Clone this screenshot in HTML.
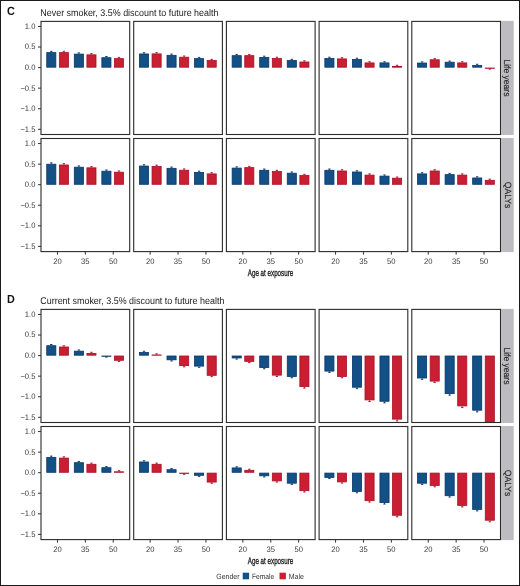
<!DOCTYPE html><html><head><meta charset="utf-8"><style>html,body{margin:0;padding:0;background:#fff}svg{display:block;will-change:transform}text{font-family:"Liberation Sans",sans-serif;text-rendering:geometricPrecision}</style></head><body>
<svg width="520" height="586" viewBox="0 0 520 586">
<rect x="0" y="0" width="520" height="586" fill="#fff"/>
<rect x="0.5" y="0.5" width="519" height="585" fill="none" stroke="#1c1a1b" stroke-width="1"/>
<clipPath id="c00"><rect x="41.0" y="21.4" width="88.7" height="113.1"/></clipPath>
<clipPath id="c01"><rect x="133.7" y="21.4" width="88.7" height="113.1"/></clipPath>
<clipPath id="c02"><rect x="226.4" y="21.4" width="88.7" height="113.1"/></clipPath>
<clipPath id="c03"><rect x="319.1" y="21.4" width="88.7" height="113.1"/></clipPath>
<clipPath id="c04"><rect x="411.8" y="21.4" width="88.7" height="113.1"/></clipPath>
<g clip-path="url(#c00)"><rect x="46.75" y="52.62" width="9.10" height="14.58" fill="#135086" stroke="#07366b" stroke-width="0.8"/><line x1="51.30" y1="52.22" x2="51.30" y2="51.35" stroke="#07366b" stroke-width="0.9"/><line x1="50.10" y1="51.35" x2="52.50" y2="51.35" stroke="#07366b" stroke-width="0.9"/><rect x="59.35" y="52.62" width="9.10" height="14.58" fill="#c81f33" stroke="#aa0f27" stroke-width="0.8"/><line x1="63.90" y1="52.22" x2="63.90" y2="51.35" stroke="#aa0f27" stroke-width="0.9"/><line x1="62.70" y1="51.35" x2="65.10" y2="51.35" stroke="#aa0f27" stroke-width="0.9"/><rect x="74.30" y="54.10" width="9.10" height="13.10" fill="#135086" stroke="#07366b" stroke-width="0.8"/><line x1="78.85" y1="53.70" x2="78.85" y2="52.85" stroke="#07366b" stroke-width="0.9"/><line x1="77.65" y1="52.85" x2="80.05" y2="52.85" stroke="#07366b" stroke-width="0.9"/><rect x="86.90" y="54.84" width="9.10" height="12.36" fill="#c81f33" stroke="#aa0f27" stroke-width="0.8"/><line x1="91.45" y1="54.44" x2="91.45" y2="53.59" stroke="#aa0f27" stroke-width="0.9"/><line x1="90.25" y1="53.59" x2="92.65" y2="53.59" stroke="#aa0f27" stroke-width="0.9"/><rect x="101.85" y="57.72" width="9.10" height="9.48" fill="#135086" stroke="#07366b" stroke-width="0.8"/><line x1="106.40" y1="57.32" x2="106.40" y2="56.50" stroke="#07366b" stroke-width="0.9"/><line x1="105.20" y1="56.50" x2="107.60" y2="56.50" stroke="#07366b" stroke-width="0.9"/><rect x="114.45" y="58.62" width="9.10" height="8.58" fill="#c81f33" stroke="#aa0f27" stroke-width="0.8"/><line x1="119.00" y1="58.22" x2="119.00" y2="57.42" stroke="#aa0f27" stroke-width="0.9"/><line x1="117.80" y1="57.42" x2="120.20" y2="57.42" stroke="#aa0f27" stroke-width="0.9"/></g>
<rect x="41.0" y="21.4" width="88.7" height="113.1" fill="none" stroke="#2c2a2b" stroke-width="1.1"/>
<g clip-path="url(#c01)"><rect x="139.45" y="53.97" width="9.10" height="13.23" fill="#135086" stroke="#07366b" stroke-width="0.8"/><line x1="144.00" y1="53.57" x2="144.00" y2="52.72" stroke="#07366b" stroke-width="0.9"/><line x1="142.80" y1="52.72" x2="145.20" y2="52.72" stroke="#07366b" stroke-width="0.9"/><rect x="152.05" y="53.89" width="9.10" height="13.31" fill="#c81f33" stroke="#aa0f27" stroke-width="0.8"/><line x1="156.60" y1="53.49" x2="156.60" y2="52.64" stroke="#aa0f27" stroke-width="0.9"/><line x1="155.40" y1="52.64" x2="157.80" y2="52.64" stroke="#aa0f27" stroke-width="0.9"/><rect x="167.00" y="55.33" width="9.10" height="11.87" fill="#135086" stroke="#07366b" stroke-width="0.8"/><line x1="171.55" y1="54.93" x2="171.55" y2="54.09" stroke="#07366b" stroke-width="0.9"/><line x1="170.35" y1="54.09" x2="172.75" y2="54.09" stroke="#07366b" stroke-width="0.9"/><rect x="179.60" y="57.22" width="9.10" height="9.98" fill="#c81f33" stroke="#aa0f27" stroke-width="0.8"/><line x1="184.15" y1="56.82" x2="184.15" y2="56.01" stroke="#aa0f27" stroke-width="0.9"/><line x1="182.95" y1="56.01" x2="185.35" y2="56.01" stroke="#aa0f27" stroke-width="0.9"/><rect x="194.55" y="58.62" width="9.10" height="8.58" fill="#135086" stroke="#07366b" stroke-width="0.8"/><line x1="199.10" y1="58.22" x2="199.10" y2="57.42" stroke="#07366b" stroke-width="0.9"/><line x1="197.90" y1="57.42" x2="200.30" y2="57.42" stroke="#07366b" stroke-width="0.9"/><rect x="207.15" y="60.51" width="9.10" height="6.69" fill="#c81f33" stroke="#aa0f27" stroke-width="0.8"/><line x1="211.70" y1="60.11" x2="211.70" y2="59.33" stroke="#aa0f27" stroke-width="0.9"/><line x1="210.50" y1="59.33" x2="212.90" y2="59.33" stroke="#aa0f27" stroke-width="0.9"/></g>
<rect x="133.7" y="21.4" width="88.7" height="113.1" fill="none" stroke="#2c2a2b" stroke-width="1.1"/>
<g clip-path="url(#c02)"><rect x="232.15" y="55.66" width="9.10" height="11.54" fill="#135086" stroke="#07366b" stroke-width="0.8"/><line x1="236.70" y1="55.26" x2="236.70" y2="54.43" stroke="#07366b" stroke-width="0.9"/><line x1="235.50" y1="54.43" x2="237.90" y2="54.43" stroke="#07366b" stroke-width="0.9"/><rect x="244.75" y="55.66" width="9.10" height="11.54" fill="#c81f33" stroke="#aa0f27" stroke-width="0.8"/><line x1="249.30" y1="55.26" x2="249.30" y2="54.43" stroke="#aa0f27" stroke-width="0.9"/><line x1="248.10" y1="54.43" x2="250.50" y2="54.43" stroke="#aa0f27" stroke-width="0.9"/><rect x="259.70" y="57.39" width="9.10" height="9.81" fill="#135086" stroke="#07366b" stroke-width="0.8"/><line x1="264.25" y1="56.99" x2="264.25" y2="56.17" stroke="#07366b" stroke-width="0.9"/><line x1="263.05" y1="56.17" x2="265.45" y2="56.17" stroke="#07366b" stroke-width="0.9"/><rect x="272.30" y="58.42" width="9.10" height="8.78" fill="#c81f33" stroke="#aa0f27" stroke-width="0.8"/><line x1="276.85" y1="58.02" x2="276.85" y2="57.21" stroke="#aa0f27" stroke-width="0.9"/><line x1="275.65" y1="57.21" x2="278.05" y2="57.21" stroke="#aa0f27" stroke-width="0.9"/><rect x="287.25" y="60.51" width="9.10" height="6.69" fill="#135086" stroke="#07366b" stroke-width="0.8"/><line x1="291.80" y1="60.11" x2="291.80" y2="59.33" stroke="#07366b" stroke-width="0.9"/><line x1="290.60" y1="59.33" x2="293.00" y2="59.33" stroke="#07366b" stroke-width="0.9"/><rect x="299.85" y="62.00" width="9.10" height="5.20" fill="#c81f33" stroke="#aa0f27" stroke-width="0.8"/><line x1="304.40" y1="61.60" x2="304.40" y2="60.83" stroke="#aa0f27" stroke-width="0.9"/><line x1="303.20" y1="60.83" x2="305.60" y2="60.83" stroke="#aa0f27" stroke-width="0.9"/></g>
<rect x="226.4" y="21.4" width="88.7" height="113.1" fill="none" stroke="#2c2a2b" stroke-width="1.1"/>
<g clip-path="url(#c03)"><rect x="324.85" y="58.42" width="9.10" height="8.78" fill="#135086" stroke="#07366b" stroke-width="0.8"/><line x1="329.40" y1="58.02" x2="329.40" y2="57.21" stroke="#07366b" stroke-width="0.9"/><line x1="328.20" y1="57.21" x2="330.60" y2="57.21" stroke="#07366b" stroke-width="0.9"/><rect x="337.45" y="58.91" width="9.10" height="8.29" fill="#c81f33" stroke="#aa0f27" stroke-width="0.8"/><line x1="342.00" y1="58.51" x2="342.00" y2="57.71" stroke="#aa0f27" stroke-width="0.9"/><line x1="340.80" y1="57.71" x2="343.20" y2="57.71" stroke="#aa0f27" stroke-width="0.9"/><rect x="352.40" y="59.40" width="9.10" height="7.80" fill="#135086" stroke="#07366b" stroke-width="0.8"/><line x1="356.95" y1="59.00" x2="356.95" y2="58.21" stroke="#07366b" stroke-width="0.9"/><line x1="355.75" y1="58.21" x2="358.15" y2="58.21" stroke="#07366b" stroke-width="0.9"/><rect x="365.00" y="62.90" width="9.10" height="4.30" fill="#c81f33" stroke="#aa0f27" stroke-width="0.8"/><line x1="369.55" y1="62.50" x2="369.55" y2="61.74" stroke="#aa0f27" stroke-width="0.9"/><line x1="368.35" y1="61.74" x2="370.75" y2="61.74" stroke="#aa0f27" stroke-width="0.9"/><rect x="379.95" y="62.90" width="9.10" height="4.30" fill="#135086" stroke="#07366b" stroke-width="0.8"/><line x1="384.50" y1="62.50" x2="384.50" y2="61.74" stroke="#07366b" stroke-width="0.9"/><line x1="383.30" y1="61.74" x2="385.70" y2="61.74" stroke="#07366b" stroke-width="0.9"/><rect x="392.55" y="66.40" width="9.10" height="0.80" fill="#c81f33" stroke="#aa0f27" stroke-width="0.8"/><line x1="397.10" y1="66.00" x2="397.10" y2="65.28" stroke="#aa0f27" stroke-width="0.9"/><line x1="395.90" y1="65.28" x2="398.30" y2="65.28" stroke="#aa0f27" stroke-width="0.9"/></g>
<rect x="319.1" y="21.4" width="88.7" height="113.1" fill="none" stroke="#2c2a2b" stroke-width="1.1"/>
<g clip-path="url(#c04)"><rect x="417.55" y="63.06" width="9.10" height="4.14" fill="#135086" stroke="#07366b" stroke-width="0.8"/><line x1="422.10" y1="62.66" x2="422.10" y2="61.91" stroke="#07366b" stroke-width="0.9"/><line x1="420.90" y1="61.91" x2="423.30" y2="61.91" stroke="#07366b" stroke-width="0.9"/><rect x="430.15" y="59.77" width="9.10" height="7.43" fill="#c81f33" stroke="#aa0f27" stroke-width="0.8"/><line x1="434.70" y1="59.37" x2="434.70" y2="58.58" stroke="#aa0f27" stroke-width="0.9"/><line x1="433.50" y1="58.58" x2="435.90" y2="58.58" stroke="#aa0f27" stroke-width="0.9"/><rect x="445.10" y="62.20" width="9.10" height="5.00" fill="#135086" stroke="#07366b" stroke-width="0.8"/><line x1="449.65" y1="61.80" x2="449.65" y2="61.04" stroke="#07366b" stroke-width="0.9"/><line x1="448.45" y1="61.04" x2="450.85" y2="61.04" stroke="#07366b" stroke-width="0.9"/><rect x="457.70" y="62.90" width="9.10" height="4.30" fill="#c81f33" stroke="#aa0f27" stroke-width="0.8"/><line x1="462.25" y1="62.50" x2="462.25" y2="61.74" stroke="#aa0f27" stroke-width="0.9"/><line x1="461.05" y1="61.74" x2="463.45" y2="61.74" stroke="#aa0f27" stroke-width="0.9"/><rect x="472.65" y="65.41" width="9.10" height="1.79" fill="#135086" stroke="#07366b" stroke-width="0.8"/><line x1="477.20" y1="65.01" x2="477.20" y2="64.28" stroke="#07366b" stroke-width="0.9"/><line x1="476.00" y1="64.28" x2="478.40" y2="64.28" stroke="#07366b" stroke-width="0.9"/><rect x="485.25" y="68.00" width="9.10" height="0.30" fill="#c81f33" stroke="#aa0f27" stroke-width="0.8"/><line x1="489.80" y1="68.42" x2="489.80" y2="69.13" stroke="#aa0f27" stroke-width="0.9"/><line x1="488.60" y1="69.13" x2="491.00" y2="69.13" stroke="#aa0f27" stroke-width="0.9"/></g>
<rect x="411.8" y="21.4" width="88.7" height="113.1" fill="none" stroke="#2c2a2b" stroke-width="1.1"/>
<line x1="38" y1="26.47" x2="41.0" y2="26.47" stroke="#333" stroke-width="1"/>
<text x="0" y="0" font-size="8.0" fill="#3a3a3a" text-anchor="end"  transform="translate(35.40 28.87) scale(0.95 1)">1.0</text>
<line x1="38" y1="47.03" x2="41.0" y2="47.03" stroke="#333" stroke-width="1"/>
<text x="0" y="0" font-size="8.0" fill="#3a3a3a" text-anchor="end"  transform="translate(35.40 49.43) scale(0.95 1)">0.5</text>
<line x1="38" y1="67.60" x2="41.0" y2="67.60" stroke="#333" stroke-width="1"/>
<text x="0" y="0" font-size="8.0" fill="#3a3a3a" text-anchor="end"  transform="translate(35.40 70.00) scale(0.95 1)">0.0</text>
<line x1="38" y1="88.16" x2="41.0" y2="88.16" stroke="#333" stroke-width="1"/>
<text x="0" y="0" font-size="8.0" fill="#3a3a3a" text-anchor="end"  transform="translate(35.40 90.56) scale(0.95 1)">−0.5</text>
<line x1="38" y1="108.73" x2="41.0" y2="108.73" stroke="#333" stroke-width="1"/>
<text x="0" y="0" font-size="8.0" fill="#3a3a3a" text-anchor="end"  transform="translate(35.40 111.13) scale(0.95 1)">−1.0</text>
<line x1="38" y1="129.30" x2="41.0" y2="129.30" stroke="#333" stroke-width="1"/>
<text x="0" y="0" font-size="8.0" fill="#3a3a3a" text-anchor="end"  transform="translate(35.40 131.70) scale(0.95 1)">−1.5</text>
<rect x="501" y="20.9" width="12.7" height="114.1" fill="#bdbcc0"/>
<text x="0" y="0" font-size="9.0" fill="#262626" text-anchor="middle" stroke="#262626" stroke-width="0.15" transform="translate(503.90 77.95) rotate(90) scale(0.95 1)">Life years</text>
<clipPath id="c10"><rect x="41.0" y="138.5" width="88.7" height="113.1"/></clipPath>
<clipPath id="c11"><rect x="133.7" y="138.5" width="88.7" height="113.1"/></clipPath>
<clipPath id="c12"><rect x="226.4" y="138.5" width="88.7" height="113.1"/></clipPath>
<clipPath id="c13"><rect x="319.1" y="138.5" width="88.7" height="113.1"/></clipPath>
<clipPath id="c14"><rect x="411.8" y="138.5" width="88.7" height="113.1"/></clipPath>
<g clip-path="url(#c10)"><rect x="46.75" y="164.21" width="9.10" height="20.09" fill="#135086" stroke="#07366b" stroke-width="0.8"/><line x1="51.30" y1="163.81" x2="51.30" y2="162.88" stroke="#07366b" stroke-width="0.9"/><line x1="50.10" y1="162.88" x2="52.50" y2="162.88" stroke="#07366b" stroke-width="0.9"/><rect x="59.35" y="164.99" width="9.10" height="19.31" fill="#c81f33" stroke="#aa0f27" stroke-width="0.8"/><line x1="63.90" y1="164.59" x2="63.90" y2="163.67" stroke="#aa0f27" stroke-width="0.9"/><line x1="62.70" y1="163.67" x2="65.10" y2="163.67" stroke="#aa0f27" stroke-width="0.9"/><rect x="74.30" y="167.21" width="9.10" height="17.09" fill="#135086" stroke="#07366b" stroke-width="0.8"/><line x1="78.85" y1="166.81" x2="78.85" y2="165.91" stroke="#07366b" stroke-width="0.9"/><line x1="77.65" y1="165.91" x2="80.05" y2="165.91" stroke="#07366b" stroke-width="0.9"/><rect x="86.90" y="167.83" width="9.10" height="16.47" fill="#c81f33" stroke="#aa0f27" stroke-width="0.8"/><line x1="91.45" y1="167.43" x2="91.45" y2="166.54" stroke="#aa0f27" stroke-width="0.9"/><line x1="90.25" y1="166.54" x2="92.65" y2="166.54" stroke="#aa0f27" stroke-width="0.9"/><rect x="101.85" y="171.20" width="9.10" height="13.10" fill="#135086" stroke="#07366b" stroke-width="0.8"/><line x1="106.40" y1="170.80" x2="106.40" y2="169.95" stroke="#07366b" stroke-width="0.9"/><line x1="105.20" y1="169.95" x2="107.60" y2="169.95" stroke="#07366b" stroke-width="0.9"/><rect x="114.45" y="172.19" width="9.10" height="12.11" fill="#c81f33" stroke="#aa0f27" stroke-width="0.8"/><line x1="119.00" y1="171.79" x2="119.00" y2="170.94" stroke="#aa0f27" stroke-width="0.9"/><line x1="117.80" y1="170.94" x2="120.20" y2="170.94" stroke="#aa0f27" stroke-width="0.9"/></g>
<rect x="41.0" y="138.5" width="88.7" height="113.1" fill="none" stroke="#2c2a2b" stroke-width="1.1"/>
<g clip-path="url(#c11)"><rect x="139.45" y="166.06" width="9.10" height="18.24" fill="#135086" stroke="#07366b" stroke-width="0.8"/><line x1="144.00" y1="165.66" x2="144.00" y2="164.75" stroke="#07366b" stroke-width="0.9"/><line x1="142.80" y1="164.75" x2="145.20" y2="164.75" stroke="#07366b" stroke-width="0.9"/><rect x="152.05" y="166.39" width="9.10" height="17.91" fill="#c81f33" stroke="#aa0f27" stroke-width="0.8"/><line x1="156.60" y1="165.99" x2="156.60" y2="165.08" stroke="#aa0f27" stroke-width="0.9"/><line x1="155.40" y1="165.08" x2="157.80" y2="165.08" stroke="#aa0f27" stroke-width="0.9"/><rect x="167.00" y="168.32" width="9.10" height="15.98" fill="#135086" stroke="#07366b" stroke-width="0.8"/><line x1="171.55" y1="167.92" x2="171.55" y2="167.04" stroke="#07366b" stroke-width="0.9"/><line x1="170.35" y1="167.04" x2="172.75" y2="167.04" stroke="#07366b" stroke-width="0.9"/><rect x="179.60" y="170.21" width="9.10" height="14.09" fill="#c81f33" stroke="#aa0f27" stroke-width="0.8"/><line x1="184.15" y1="169.81" x2="184.15" y2="168.95" stroke="#aa0f27" stroke-width="0.9"/><line x1="182.95" y1="168.95" x2="185.35" y2="168.95" stroke="#aa0f27" stroke-width="0.9"/><rect x="194.55" y="172.39" width="9.10" height="11.91" fill="#135086" stroke="#07366b" stroke-width="0.8"/><line x1="199.10" y1="171.99" x2="199.10" y2="171.15" stroke="#07366b" stroke-width="0.9"/><line x1="197.90" y1="171.15" x2="200.30" y2="171.15" stroke="#07366b" stroke-width="0.9"/><rect x="207.15" y="173.91" width="9.10" height="10.39" fill="#c81f33" stroke="#aa0f27" stroke-width="0.8"/><line x1="211.70" y1="173.51" x2="211.70" y2="172.69" stroke="#aa0f27" stroke-width="0.9"/><line x1="210.50" y1="172.69" x2="212.90" y2="172.69" stroke="#aa0f27" stroke-width="0.9"/></g>
<rect x="133.7" y="138.5" width="88.7" height="113.1" fill="none" stroke="#2c2a2b" stroke-width="1.1"/>
<g clip-path="url(#c12)"><rect x="232.15" y="168.11" width="9.10" height="16.19" fill="#135086" stroke="#07366b" stroke-width="0.8"/><line x1="236.70" y1="167.71" x2="236.70" y2="166.83" stroke="#07366b" stroke-width="0.9"/><line x1="235.50" y1="166.83" x2="237.90" y2="166.83" stroke="#07366b" stroke-width="0.9"/><rect x="244.75" y="167.62" width="9.10" height="16.68" fill="#c81f33" stroke="#aa0f27" stroke-width="0.8"/><line x1="249.30" y1="167.22" x2="249.30" y2="166.33" stroke="#aa0f27" stroke-width="0.9"/><line x1="248.10" y1="166.33" x2="250.50" y2="166.33" stroke="#aa0f27" stroke-width="0.9"/><rect x="259.70" y="170.29" width="9.10" height="14.01" fill="#135086" stroke="#07366b" stroke-width="0.8"/><line x1="264.25" y1="169.89" x2="264.25" y2="169.03" stroke="#07366b" stroke-width="0.9"/><line x1="263.05" y1="169.03" x2="265.45" y2="169.03" stroke="#07366b" stroke-width="0.9"/><rect x="272.30" y="171.49" width="9.10" height="12.81" fill="#c81f33" stroke="#aa0f27" stroke-width="0.8"/><line x1="276.85" y1="171.09" x2="276.85" y2="170.24" stroke="#aa0f27" stroke-width="0.9"/><line x1="275.65" y1="170.24" x2="278.05" y2="170.24" stroke="#aa0f27" stroke-width="0.9"/><rect x="287.25" y="173.21" width="9.10" height="11.09" fill="#135086" stroke="#07366b" stroke-width="0.8"/><line x1="291.80" y1="172.81" x2="291.80" y2="171.98" stroke="#07366b" stroke-width="0.9"/><line x1="290.60" y1="171.98" x2="293.00" y2="171.98" stroke="#07366b" stroke-width="0.9"/><rect x="299.85" y="175.52" width="9.10" height="8.78" fill="#c81f33" stroke="#aa0f27" stroke-width="0.8"/><line x1="304.40" y1="175.12" x2="304.40" y2="174.31" stroke="#aa0f27" stroke-width="0.9"/><line x1="303.20" y1="174.31" x2="305.60" y2="174.31" stroke="#aa0f27" stroke-width="0.9"/></g>
<rect x="226.4" y="138.5" width="88.7" height="113.1" fill="none" stroke="#2c2a2b" stroke-width="1.1"/>
<g clip-path="url(#c13)"><rect x="324.85" y="170.29" width="9.10" height="14.01" fill="#135086" stroke="#07366b" stroke-width="0.8"/><line x1="329.40" y1="169.89" x2="329.40" y2="169.03" stroke="#07366b" stroke-width="0.9"/><line x1="328.20" y1="169.03" x2="330.60" y2="169.03" stroke="#07366b" stroke-width="0.9"/><rect x="337.45" y="170.99" width="9.10" height="13.31" fill="#c81f33" stroke="#aa0f27" stroke-width="0.8"/><line x1="342.00" y1="170.59" x2="342.00" y2="169.74" stroke="#aa0f27" stroke-width="0.9"/><line x1="340.80" y1="169.74" x2="343.20" y2="169.74" stroke="#aa0f27" stroke-width="0.9"/><rect x="352.40" y="172.02" width="9.10" height="12.28" fill="#135086" stroke="#07366b" stroke-width="0.8"/><line x1="356.95" y1="171.62" x2="356.95" y2="170.78" stroke="#07366b" stroke-width="0.9"/><line x1="355.75" y1="170.78" x2="358.15" y2="170.78" stroke="#07366b" stroke-width="0.9"/><rect x="365.00" y="175.11" width="9.10" height="9.19" fill="#c81f33" stroke="#aa0f27" stroke-width="0.8"/><line x1="369.55" y1="174.71" x2="369.55" y2="173.90" stroke="#aa0f27" stroke-width="0.9"/><line x1="368.35" y1="173.90" x2="370.75" y2="173.90" stroke="#aa0f27" stroke-width="0.9"/><rect x="379.95" y="176.13" width="9.10" height="8.17" fill="#135086" stroke="#07366b" stroke-width="0.8"/><line x1="384.50" y1="175.73" x2="384.50" y2="174.94" stroke="#07366b" stroke-width="0.9"/><line x1="383.30" y1="174.94" x2="385.70" y2="174.94" stroke="#07366b" stroke-width="0.9"/><rect x="392.55" y="178.19" width="9.10" height="6.11" fill="#c81f33" stroke="#aa0f27" stroke-width="0.8"/><line x1="397.10" y1="177.79" x2="397.10" y2="177.01" stroke="#aa0f27" stroke-width="0.9"/><line x1="395.90" y1="177.01" x2="398.30" y2="177.01" stroke="#aa0f27" stroke-width="0.9"/></g>
<rect x="319.1" y="138.5" width="88.7" height="113.1" fill="none" stroke="#2c2a2b" stroke-width="1.1"/>
<g clip-path="url(#c14)"><rect x="417.55" y="173.91" width="9.10" height="10.39" fill="#135086" stroke="#07366b" stroke-width="0.8"/><line x1="422.10" y1="173.51" x2="422.10" y2="172.69" stroke="#07366b" stroke-width="0.9"/><line x1="420.90" y1="172.69" x2="423.30" y2="172.69" stroke="#07366b" stroke-width="0.9"/><rect x="430.15" y="170.99" width="9.10" height="13.31" fill="#c81f33" stroke="#aa0f27" stroke-width="0.8"/><line x1="434.70" y1="170.59" x2="434.70" y2="169.74" stroke="#aa0f27" stroke-width="0.9"/><line x1="433.50" y1="169.74" x2="435.90" y2="169.74" stroke="#aa0f27" stroke-width="0.9"/><rect x="445.10" y="174.61" width="9.10" height="9.69" fill="#135086" stroke="#07366b" stroke-width="0.8"/><line x1="449.65" y1="174.21" x2="449.65" y2="173.40" stroke="#07366b" stroke-width="0.9"/><line x1="448.45" y1="173.40" x2="450.85" y2="173.40" stroke="#07366b" stroke-width="0.9"/><rect x="457.70" y="175.11" width="9.10" height="9.19" fill="#c81f33" stroke="#aa0f27" stroke-width="0.8"/><line x1="462.25" y1="174.71" x2="462.25" y2="173.90" stroke="#aa0f27" stroke-width="0.9"/><line x1="461.05" y1="173.90" x2="463.45" y2="173.90" stroke="#aa0f27" stroke-width="0.9"/><rect x="472.65" y="177.98" width="9.10" height="6.32" fill="#135086" stroke="#07366b" stroke-width="0.8"/><line x1="477.20" y1="177.58" x2="477.20" y2="176.81" stroke="#07366b" stroke-width="0.9"/><line x1="476.00" y1="176.81" x2="478.40" y2="176.81" stroke="#07366b" stroke-width="0.9"/><rect x="485.25" y="180.29" width="9.10" height="4.01" fill="#c81f33" stroke="#aa0f27" stroke-width="0.8"/><line x1="489.80" y1="179.89" x2="489.80" y2="179.14" stroke="#aa0f27" stroke-width="0.9"/><line x1="488.60" y1="179.14" x2="491.00" y2="179.14" stroke="#aa0f27" stroke-width="0.9"/></g>
<rect x="411.8" y="138.5" width="88.7" height="113.1" fill="none" stroke="#2c2a2b" stroke-width="1.1"/>
<line x1="38" y1="143.57" x2="41.0" y2="143.57" stroke="#333" stroke-width="1"/>
<text x="0" y="0" font-size="8.0" fill="#3a3a3a" text-anchor="end"  transform="translate(35.40 145.97) scale(0.95 1)">1.0</text>
<line x1="38" y1="164.13" x2="41.0" y2="164.13" stroke="#333" stroke-width="1"/>
<text x="0" y="0" font-size="8.0" fill="#3a3a3a" text-anchor="end"  transform="translate(35.40 166.53) scale(0.95 1)">0.5</text>
<line x1="38" y1="184.70" x2="41.0" y2="184.70" stroke="#333" stroke-width="1"/>
<text x="0" y="0" font-size="8.0" fill="#3a3a3a" text-anchor="end"  transform="translate(35.40 187.10) scale(0.95 1)">0.0</text>
<line x1="38" y1="205.26" x2="41.0" y2="205.26" stroke="#333" stroke-width="1"/>
<text x="0" y="0" font-size="8.0" fill="#3a3a3a" text-anchor="end"  transform="translate(35.40 207.66) scale(0.95 1)">−0.5</text>
<line x1="38" y1="225.83" x2="41.0" y2="225.83" stroke="#333" stroke-width="1"/>
<text x="0" y="0" font-size="8.0" fill="#3a3a3a" text-anchor="end"  transform="translate(35.40 228.23) scale(0.95 1)">−1.0</text>
<line x1="38" y1="246.39" x2="41.0" y2="246.39" stroke="#333" stroke-width="1"/>
<text x="0" y="0" font-size="8.0" fill="#3a3a3a" text-anchor="end"  transform="translate(35.40 248.79) scale(0.95 1)">−1.5</text>
<rect x="501" y="138.0" width="12.7" height="114.1" fill="#bdbcc0"/>
<text x="0" y="0" font-size="9.0" fill="#262626" text-anchor="middle" stroke="#262626" stroke-width="0.15" transform="translate(504.70 195.05) rotate(90) scale(0.95 1)">QALYs</text>
<line x1="57.45" y1="251.60" x2="57.45" y2="254.60" stroke="#333" stroke-width="1"/>
<text x="0" y="0" font-size="8.0" fill="#3a3a3a" text-anchor="middle"  transform="translate(57.45 263.60) scale(0.95 1)">20</text>
<line x1="85.35" y1="251.60" x2="85.35" y2="254.60" stroke="#333" stroke-width="1"/>
<text x="0" y="0" font-size="8.0" fill="#3a3a3a" text-anchor="middle"  transform="translate(85.35 263.60) scale(0.95 1)">35</text>
<line x1="113.25" y1="251.60" x2="113.25" y2="254.60" stroke="#333" stroke-width="1"/>
<text x="0" y="0" font-size="8.0" fill="#3a3a3a" text-anchor="middle"  transform="translate(113.25 263.60) scale(0.95 1)">50</text>
<line x1="150.15" y1="251.60" x2="150.15" y2="254.60" stroke="#333" stroke-width="1"/>
<text x="0" y="0" font-size="8.0" fill="#3a3a3a" text-anchor="middle"  transform="translate(150.15 263.60) scale(0.95 1)">20</text>
<line x1="178.05" y1="251.60" x2="178.05" y2="254.60" stroke="#333" stroke-width="1"/>
<text x="0" y="0" font-size="8.0" fill="#3a3a3a" text-anchor="middle"  transform="translate(178.05 263.60) scale(0.95 1)">35</text>
<line x1="205.95" y1="251.60" x2="205.95" y2="254.60" stroke="#333" stroke-width="1"/>
<text x="0" y="0" font-size="8.0" fill="#3a3a3a" text-anchor="middle"  transform="translate(205.95 263.60) scale(0.95 1)">50</text>
<line x1="242.85" y1="251.60" x2="242.85" y2="254.60" stroke="#333" stroke-width="1"/>
<text x="0" y="0" font-size="8.0" fill="#3a3a3a" text-anchor="middle"  transform="translate(242.85 263.60) scale(0.95 1)">20</text>
<line x1="270.75" y1="251.60" x2="270.75" y2="254.60" stroke="#333" stroke-width="1"/>
<text x="0" y="0" font-size="8.0" fill="#3a3a3a" text-anchor="middle"  transform="translate(270.75 263.60) scale(0.95 1)">35</text>
<line x1="298.65" y1="251.60" x2="298.65" y2="254.60" stroke="#333" stroke-width="1"/>
<text x="0" y="0" font-size="8.0" fill="#3a3a3a" text-anchor="middle"  transform="translate(298.65 263.60) scale(0.95 1)">50</text>
<line x1="335.55" y1="251.60" x2="335.55" y2="254.60" stroke="#333" stroke-width="1"/>
<text x="0" y="0" font-size="8.0" fill="#3a3a3a" text-anchor="middle"  transform="translate(335.55 263.60) scale(0.95 1)">20</text>
<line x1="363.45" y1="251.60" x2="363.45" y2="254.60" stroke="#333" stroke-width="1"/>
<text x="0" y="0" font-size="8.0" fill="#3a3a3a" text-anchor="middle"  transform="translate(363.45 263.60) scale(0.95 1)">35</text>
<line x1="391.35" y1="251.60" x2="391.35" y2="254.60" stroke="#333" stroke-width="1"/>
<text x="0" y="0" font-size="8.0" fill="#3a3a3a" text-anchor="middle"  transform="translate(391.35 263.60) scale(0.95 1)">50</text>
<line x1="428.25" y1="251.60" x2="428.25" y2="254.60" stroke="#333" stroke-width="1"/>
<text x="0" y="0" font-size="8.0" fill="#3a3a3a" text-anchor="middle"  transform="translate(428.25 263.60) scale(0.95 1)">20</text>
<line x1="456.15" y1="251.60" x2="456.15" y2="254.60" stroke="#333" stroke-width="1"/>
<text x="0" y="0" font-size="8.0" fill="#3a3a3a" text-anchor="middle"  transform="translate(456.15 263.60) scale(0.95 1)">35</text>
<line x1="484.05" y1="251.60" x2="484.05" y2="254.60" stroke="#333" stroke-width="1"/>
<text x="0" y="0" font-size="8.0" fill="#3a3a3a" text-anchor="middle"  transform="translate(484.05 263.60) scale(0.95 1)">50</text>
<text x="0" y="0" font-size="9.4" fill="#1e1e1e" stroke="#1e1e1e" stroke-width="0.35" text-anchor="middle" transform="translate(270.5 275.70) scale(0.665 1)">Age at exposure</text>
<clipPath id="c20"><rect x="41.0" y="309.4" width="88.7" height="113.1"/></clipPath>
<clipPath id="c21"><rect x="133.7" y="309.4" width="88.7" height="113.1"/></clipPath>
<clipPath id="c22"><rect x="226.4" y="309.4" width="88.7" height="113.1"/></clipPath>
<clipPath id="c23"><rect x="319.1" y="309.4" width="88.7" height="113.1"/></clipPath>
<clipPath id="c24"><rect x="411.8" y="309.4" width="88.7" height="113.1"/></clipPath>
<g clip-path="url(#c20)"><rect x="46.75" y="345.72" width="9.10" height="9.48" fill="#135086" stroke="#07366b" stroke-width="0.8"/><line x1="51.30" y1="345.32" x2="51.30" y2="344.50" stroke="#07366b" stroke-width="0.9"/><line x1="50.10" y1="344.50" x2="52.50" y2="344.50" stroke="#07366b" stroke-width="0.9"/><rect x="59.35" y="346.99" width="9.10" height="8.21" fill="#c81f33" stroke="#aa0f27" stroke-width="0.8"/><line x1="63.90" y1="346.59" x2="63.90" y2="345.79" stroke="#aa0f27" stroke-width="0.9"/><line x1="62.70" y1="345.79" x2="65.10" y2="345.79" stroke="#aa0f27" stroke-width="0.9"/><rect x="74.30" y="351.15" width="9.10" height="4.05" fill="#135086" stroke="#07366b" stroke-width="0.8"/><line x1="78.85" y1="350.75" x2="78.85" y2="349.99" stroke="#07366b" stroke-width="0.9"/><line x1="77.65" y1="349.99" x2="80.05" y2="349.99" stroke="#07366b" stroke-width="0.9"/><rect x="86.90" y="353.41" width="9.10" height="1.79" fill="#c81f33" stroke="#aa0f27" stroke-width="0.8"/><line x1="91.45" y1="353.01" x2="91.45" y2="352.28" stroke="#aa0f27" stroke-width="0.9"/><line x1="90.25" y1="352.28" x2="92.65" y2="352.28" stroke="#aa0f27" stroke-width="0.9"/><rect x="101.85" y="356.00" width="9.10" height="0.30" fill="#135086" stroke="#07366b" stroke-width="0.8"/><line x1="106.40" y1="356.42" x2="106.40" y2="357.13" stroke="#07366b" stroke-width="0.9"/><line x1="105.20" y1="357.13" x2="107.60" y2="357.13" stroke="#07366b" stroke-width="0.9"/><rect x="114.45" y="356.00" width="9.10" height="4.30" fill="#c81f33" stroke="#aa0f27" stroke-width="0.8"/><line x1="119.00" y1="360.70" x2="119.00" y2="361.46" stroke="#aa0f27" stroke-width="0.9"/><line x1="117.80" y1="361.46" x2="120.20" y2="361.46" stroke="#aa0f27" stroke-width="0.9"/></g>
<rect x="41.0" y="309.4" width="88.7" height="113.1" fill="none" stroke="#2c2a2b" stroke-width="1.1"/>
<g clip-path="url(#c21)"><rect x="139.45" y="352.38" width="9.10" height="2.82" fill="#135086" stroke="#07366b" stroke-width="0.8"/><line x1="144.00" y1="351.98" x2="144.00" y2="351.24" stroke="#07366b" stroke-width="0.9"/><line x1="142.80" y1="351.24" x2="145.20" y2="351.24" stroke="#07366b" stroke-width="0.9"/><rect x="152.05" y="354.93" width="9.10" height="0.30" fill="#c81f33" stroke="#aa0f27" stroke-width="0.8"/><line x1="156.60" y1="354.53" x2="156.60" y2="353.82" stroke="#aa0f27" stroke-width="0.9"/><line x1="155.40" y1="353.82" x2="157.80" y2="353.82" stroke="#aa0f27" stroke-width="0.9"/><rect x="167.00" y="356.00" width="9.10" height="3.81" fill="#135086" stroke="#07366b" stroke-width="0.8"/><line x1="171.55" y1="360.21" x2="171.55" y2="360.96" stroke="#07366b" stroke-width="0.9"/><line x1="170.35" y1="360.96" x2="172.75" y2="360.96" stroke="#07366b" stroke-width="0.9"/><rect x="179.60" y="356.00" width="9.10" height="9.61" fill="#c81f33" stroke="#aa0f27" stroke-width="0.8"/><line x1="184.15" y1="366.01" x2="184.15" y2="366.82" stroke="#aa0f27" stroke-width="0.9"/><line x1="182.95" y1="366.82" x2="185.35" y2="366.82" stroke="#aa0f27" stroke-width="0.9"/><rect x="194.55" y="356.00" width="9.10" height="10.10" fill="#135086" stroke="#07366b" stroke-width="0.8"/><line x1="199.10" y1="366.50" x2="199.10" y2="367.32" stroke="#07366b" stroke-width="0.9"/><line x1="197.90" y1="367.32" x2="200.30" y2="367.32" stroke="#07366b" stroke-width="0.9"/><rect x="207.15" y="356.00" width="9.10" height="19.35" fill="#c81f33" stroke="#aa0f27" stroke-width="0.8"/><line x1="211.70" y1="375.75" x2="211.70" y2="376.67" stroke="#aa0f27" stroke-width="0.9"/><line x1="210.50" y1="376.67" x2="212.90" y2="376.67" stroke="#aa0f27" stroke-width="0.9"/></g>
<rect x="133.7" y="309.4" width="88.7" height="113.1" fill="none" stroke="#2c2a2b" stroke-width="1.1"/>
<g clip-path="url(#c22)"><rect x="232.15" y="356.00" width="9.10" height="1.96" fill="#135086" stroke="#07366b" stroke-width="0.8"/><line x1="236.70" y1="358.36" x2="236.70" y2="359.09" stroke="#07366b" stroke-width="0.9"/><line x1="235.50" y1="359.09" x2="237.90" y2="359.09" stroke="#07366b" stroke-width="0.9"/><rect x="244.75" y="356.00" width="9.10" height="5.37" fill="#c81f33" stroke="#aa0f27" stroke-width="0.8"/><line x1="249.30" y1="361.77" x2="249.30" y2="362.54" stroke="#aa0f27" stroke-width="0.9"/><line x1="248.10" y1="362.54" x2="250.50" y2="362.54" stroke="#aa0f27" stroke-width="0.9"/><rect x="259.70" y="356.00" width="9.10" height="11.54" fill="#135086" stroke="#07366b" stroke-width="0.8"/><line x1="264.25" y1="367.94" x2="264.25" y2="368.77" stroke="#07366b" stroke-width="0.9"/><line x1="263.05" y1="368.77" x2="265.45" y2="368.77" stroke="#07366b" stroke-width="0.9"/><rect x="272.30" y="356.00" width="9.10" height="19.15" fill="#c81f33" stroke="#aa0f27" stroke-width="0.8"/><line x1="276.85" y1="375.55" x2="276.85" y2="376.47" stroke="#aa0f27" stroke-width="0.9"/><line x1="275.65" y1="376.47" x2="278.05" y2="376.47" stroke="#aa0f27" stroke-width="0.9"/><rect x="287.25" y="356.00" width="9.10" height="20.46" fill="#135086" stroke="#07366b" stroke-width="0.8"/><line x1="291.80" y1="376.86" x2="291.80" y2="377.80" stroke="#07366b" stroke-width="0.9"/><line x1="290.60" y1="377.80" x2="293.00" y2="377.80" stroke="#07366b" stroke-width="0.9"/><rect x="299.85" y="356.00" width="9.10" height="30.62" fill="#c81f33" stroke="#aa0f27" stroke-width="0.8"/><line x1="304.40" y1="387.02" x2="304.40" y2="388.07" stroke="#aa0f27" stroke-width="0.9"/><line x1="303.20" y1="388.07" x2="305.60" y2="388.07" stroke="#aa0f27" stroke-width="0.9"/></g>
<rect x="226.4" y="309.4" width="88.7" height="113.1" fill="none" stroke="#2c2a2b" stroke-width="1.1"/>
<g clip-path="url(#c23)"><rect x="324.85" y="356.00" width="9.10" height="15.12" fill="#135086" stroke="#07366b" stroke-width="0.8"/><line x1="329.40" y1="371.52" x2="329.40" y2="372.39" stroke="#07366b" stroke-width="0.9"/><line x1="328.20" y1="372.39" x2="330.60" y2="372.39" stroke="#07366b" stroke-width="0.9"/><rect x="337.45" y="356.00" width="9.10" height="20.46" fill="#c81f33" stroke="#aa0f27" stroke-width="0.8"/><line x1="342.00" y1="376.86" x2="342.00" y2="377.80" stroke="#aa0f27" stroke-width="0.9"/><line x1="340.80" y1="377.80" x2="343.20" y2="377.80" stroke="#aa0f27" stroke-width="0.9"/><rect x="352.40" y="356.00" width="9.10" height="31.20" fill="#135086" stroke="#07366b" stroke-width="0.8"/><line x1="356.95" y1="387.60" x2="356.95" y2="388.65" stroke="#07366b" stroke-width="0.9"/><line x1="355.75" y1="388.65" x2="358.15" y2="388.65" stroke="#07366b" stroke-width="0.9"/><rect x="365.00" y="356.00" width="9.10" height="43.91" fill="#c81f33" stroke="#aa0f27" stroke-width="0.8"/><line x1="369.55" y1="400.31" x2="369.55" y2="401.50" stroke="#aa0f27" stroke-width="0.9"/><line x1="368.35" y1="401.50" x2="370.75" y2="401.50" stroke="#aa0f27" stroke-width="0.9"/><rect x="379.95" y="356.00" width="9.10" height="45.27" fill="#135086" stroke="#07366b" stroke-width="0.8"/><line x1="384.50" y1="401.67" x2="384.50" y2="402.87" stroke="#07366b" stroke-width="0.9"/><line x1="383.30" y1="402.87" x2="385.70" y2="402.87" stroke="#07366b" stroke-width="0.9"/><rect x="392.55" y="356.00" width="9.10" height="63.12" fill="#c81f33" stroke="#aa0f27" stroke-width="0.8"/><line x1="397.10" y1="419.52" x2="397.10" y2="420.92" stroke="#aa0f27" stroke-width="0.9"/><line x1="395.90" y1="420.92" x2="398.30" y2="420.92" stroke="#aa0f27" stroke-width="0.9"/></g>
<rect x="319.1" y="309.4" width="88.7" height="113.1" fill="none" stroke="#2c2a2b" stroke-width="1.1"/>
<g clip-path="url(#c24)"><rect x="417.55" y="356.00" width="9.10" height="21.99" fill="#135086" stroke="#07366b" stroke-width="0.8"/><line x1="422.10" y1="378.39" x2="422.10" y2="379.34" stroke="#07366b" stroke-width="0.9"/><line x1="420.90" y1="379.34" x2="423.30" y2="379.34" stroke="#07366b" stroke-width="0.9"/><rect x="430.15" y="356.00" width="9.10" height="25.11" fill="#c81f33" stroke="#aa0f27" stroke-width="0.8"/><line x1="434.70" y1="381.51" x2="434.70" y2="382.50" stroke="#aa0f27" stroke-width="0.9"/><line x1="433.50" y1="382.50" x2="435.90" y2="382.50" stroke="#aa0f27" stroke-width="0.9"/><rect x="445.10" y="356.00" width="9.10" height="37.62" fill="#135086" stroke="#07366b" stroke-width="0.8"/><line x1="449.65" y1="394.02" x2="449.65" y2="395.14" stroke="#07366b" stroke-width="0.9"/><line x1="448.45" y1="395.14" x2="450.85" y2="395.14" stroke="#07366b" stroke-width="0.9"/><rect x="457.70" y="356.00" width="9.10" height="49.91" fill="#c81f33" stroke="#aa0f27" stroke-width="0.8"/><line x1="462.25" y1="406.31" x2="462.25" y2="407.57" stroke="#aa0f27" stroke-width="0.9"/><line x1="461.05" y1="407.57" x2="463.45" y2="407.57" stroke="#aa0f27" stroke-width="0.9"/><rect x="472.65" y="356.00" width="9.10" height="54.19" fill="#135086" stroke="#07366b" stroke-width="0.8"/><line x1="477.20" y1="410.59" x2="477.20" y2="411.89" stroke="#07366b" stroke-width="0.9"/><line x1="476.00" y1="411.89" x2="478.40" y2="411.89" stroke="#07366b" stroke-width="0.9"/><rect x="485.25" y="356.00" width="9.10" height="69.12" fill="#c81f33" stroke="#aa0f27" stroke-width="0.8"/><line x1="489.80" y1="425.52" x2="489.80" y2="426.99" stroke="#aa0f27" stroke-width="0.9"/><line x1="488.60" y1="426.99" x2="491.00" y2="426.99" stroke="#aa0f27" stroke-width="0.9"/></g>
<rect x="411.8" y="309.4" width="88.7" height="113.1" fill="none" stroke="#2c2a2b" stroke-width="1.1"/>
<line x1="38" y1="314.47" x2="41.0" y2="314.47" stroke="#333" stroke-width="1"/>
<text x="0" y="0" font-size="8.0" fill="#3a3a3a" text-anchor="end"  transform="translate(35.40 316.87) scale(0.95 1)">1.0</text>
<line x1="38" y1="335.04" x2="41.0" y2="335.04" stroke="#333" stroke-width="1"/>
<text x="0" y="0" font-size="8.0" fill="#3a3a3a" text-anchor="end"  transform="translate(35.40 337.44) scale(0.95 1)">0.5</text>
<line x1="38" y1="355.60" x2="41.0" y2="355.60" stroke="#333" stroke-width="1"/>
<text x="0" y="0" font-size="8.0" fill="#3a3a3a" text-anchor="end"  transform="translate(35.40 358.00) scale(0.95 1)">0.0</text>
<line x1="38" y1="376.17" x2="41.0" y2="376.17" stroke="#333" stroke-width="1"/>
<text x="0" y="0" font-size="8.0" fill="#3a3a3a" text-anchor="end"  transform="translate(35.40 378.56) scale(0.95 1)">−0.5</text>
<line x1="38" y1="396.73" x2="41.0" y2="396.73" stroke="#333" stroke-width="1"/>
<text x="0" y="0" font-size="8.0" fill="#3a3a3a" text-anchor="end"  transform="translate(35.40 399.13) scale(0.95 1)">−1.0</text>
<line x1="38" y1="417.30" x2="41.0" y2="417.30" stroke="#333" stroke-width="1"/>
<text x="0" y="0" font-size="8.0" fill="#3a3a3a" text-anchor="end"  transform="translate(35.40 419.69) scale(0.95 1)">−1.5</text>
<rect x="501" y="308.9" width="12.7" height="114.1" fill="#bdbcc0"/>
<text x="0" y="0" font-size="9.0" fill="#262626" text-anchor="middle" stroke="#262626" stroke-width="0.15" transform="translate(503.90 365.95) rotate(90) scale(0.95 1)">Life years</text>
<clipPath id="c30"><rect x="41.0" y="426.5" width="88.7" height="113.1"/></clipPath>
<clipPath id="c31"><rect x="133.7" y="426.5" width="88.7" height="113.1"/></clipPath>
<clipPath id="c32"><rect x="226.4" y="426.5" width="88.7" height="113.1"/></clipPath>
<clipPath id="c33"><rect x="319.1" y="426.5" width="88.7" height="113.1"/></clipPath>
<clipPath id="c34"><rect x="411.8" y="426.5" width="88.7" height="113.1"/></clipPath>
<g clip-path="url(#c30)"><rect x="46.75" y="457.39" width="9.10" height="14.91" fill="#135086" stroke="#07366b" stroke-width="0.8"/><line x1="51.30" y1="456.99" x2="51.30" y2="456.12" stroke="#07366b" stroke-width="0.9"/><line x1="50.10" y1="456.12" x2="52.50" y2="456.12" stroke="#07366b" stroke-width="0.9"/><rect x="59.35" y="458.09" width="9.10" height="14.21" fill="#c81f33" stroke="#aa0f27" stroke-width="0.8"/><line x1="63.90" y1="457.69" x2="63.90" y2="456.82" stroke="#aa0f27" stroke-width="0.9"/><line x1="62.70" y1="456.82" x2="65.10" y2="456.82" stroke="#aa0f27" stroke-width="0.9"/><rect x="74.30" y="462.69" width="9.10" height="9.61" fill="#135086" stroke="#07366b" stroke-width="0.8"/><line x1="78.85" y1="462.29" x2="78.85" y2="461.48" stroke="#07366b" stroke-width="0.9"/><line x1="77.65" y1="461.48" x2="80.05" y2="461.48" stroke="#07366b" stroke-width="0.9"/><rect x="86.90" y="464.30" width="9.10" height="8.00" fill="#c81f33" stroke="#aa0f27" stroke-width="0.8"/><line x1="91.45" y1="463.90" x2="91.45" y2="463.10" stroke="#aa0f27" stroke-width="0.9"/><line x1="90.25" y1="463.10" x2="92.65" y2="463.10" stroke="#aa0f27" stroke-width="0.9"/><rect x="101.85" y="467.71" width="9.10" height="4.59" fill="#135086" stroke="#07366b" stroke-width="0.8"/><line x1="106.40" y1="467.31" x2="106.40" y2="466.55" stroke="#07366b" stroke-width="0.9"/><line x1="105.20" y1="466.55" x2="107.60" y2="466.55" stroke="#07366b" stroke-width="0.9"/><rect x="114.45" y="471.78" width="9.10" height="0.52" fill="#c81f33" stroke="#aa0f27" stroke-width="0.8"/><line x1="119.00" y1="471.38" x2="119.00" y2="470.67" stroke="#aa0f27" stroke-width="0.9"/><line x1="117.80" y1="470.67" x2="120.20" y2="470.67" stroke="#aa0f27" stroke-width="0.9"/></g>
<rect x="41.0" y="426.5" width="88.7" height="113.1" fill="none" stroke="#2c2a2b" stroke-width="1.1"/>
<g clip-path="url(#c31)"><rect x="139.45" y="461.99" width="9.10" height="10.31" fill="#135086" stroke="#07366b" stroke-width="0.8"/><line x1="144.00" y1="461.59" x2="144.00" y2="460.77" stroke="#07366b" stroke-width="0.9"/><line x1="142.80" y1="460.77" x2="145.20" y2="460.77" stroke="#07366b" stroke-width="0.9"/><rect x="152.05" y="464.30" width="9.10" height="8.00" fill="#c81f33" stroke="#aa0f27" stroke-width="0.8"/><line x1="156.60" y1="463.90" x2="156.60" y2="463.10" stroke="#aa0f27" stroke-width="0.9"/><line x1="155.40" y1="463.10" x2="157.80" y2="463.10" stroke="#aa0f27" stroke-width="0.9"/><rect x="167.00" y="469.69" width="9.10" height="2.61" fill="#135086" stroke="#07366b" stroke-width="0.8"/><line x1="171.55" y1="469.29" x2="171.55" y2="468.55" stroke="#07366b" stroke-width="0.9"/><line x1="170.35" y1="468.55" x2="172.75" y2="468.55" stroke="#07366b" stroke-width="0.9"/><rect x="179.60" y="473.10" width="9.10" height="0.30" fill="#c81f33" stroke="#aa0f27" stroke-width="0.8"/><line x1="184.15" y1="473.60" x2="184.15" y2="474.31" stroke="#aa0f27" stroke-width="0.9"/><line x1="182.95" y1="474.31" x2="185.35" y2="474.31" stroke="#aa0f27" stroke-width="0.9"/><rect x="194.55" y="473.10" width="9.10" height="2.20" fill="#135086" stroke="#07366b" stroke-width="0.8"/><line x1="199.10" y1="475.70" x2="199.10" y2="476.44" stroke="#07366b" stroke-width="0.9"/><line x1="197.90" y1="476.44" x2="200.30" y2="476.44" stroke="#07366b" stroke-width="0.9"/><rect x="207.15" y="473.10" width="9.10" height="8.99" fill="#c81f33" stroke="#aa0f27" stroke-width="0.8"/><line x1="211.70" y1="482.49" x2="211.70" y2="483.30" stroke="#aa0f27" stroke-width="0.9"/><line x1="210.50" y1="483.30" x2="212.90" y2="483.30" stroke="#aa0f27" stroke-width="0.9"/></g>
<rect x="133.7" y="426.5" width="88.7" height="113.1" fill="none" stroke="#2c2a2b" stroke-width="1.1"/>
<g clip-path="url(#c32)"><rect x="232.15" y="467.92" width="9.10" height="4.38" fill="#135086" stroke="#07366b" stroke-width="0.8"/><line x1="236.70" y1="467.52" x2="236.70" y2="466.76" stroke="#07366b" stroke-width="0.9"/><line x1="235.50" y1="466.76" x2="237.90" y2="466.76" stroke="#07366b" stroke-width="0.9"/><rect x="244.75" y="470.30" width="9.10" height="2.00" fill="#c81f33" stroke="#aa0f27" stroke-width="0.8"/><line x1="249.30" y1="469.90" x2="249.30" y2="469.17" stroke="#aa0f27" stroke-width="0.9"/><line x1="248.10" y1="469.17" x2="250.50" y2="469.17" stroke="#aa0f27" stroke-width="0.9"/><rect x="259.70" y="473.10" width="9.10" height="2.70" fill="#135086" stroke="#07366b" stroke-width="0.8"/><line x1="264.25" y1="476.20" x2="264.25" y2="476.93" stroke="#07366b" stroke-width="0.9"/><line x1="263.05" y1="476.93" x2="265.45" y2="476.93" stroke="#07366b" stroke-width="0.9"/><rect x="272.30" y="473.10" width="9.10" height="7.80" fill="#c81f33" stroke="#aa0f27" stroke-width="0.8"/><line x1="276.85" y1="481.30" x2="276.85" y2="482.09" stroke="#aa0f27" stroke-width="0.9"/><line x1="275.65" y1="482.09" x2="278.05" y2="482.09" stroke="#aa0f27" stroke-width="0.9"/><rect x="287.25" y="473.10" width="9.10" height="10.10" fill="#135086" stroke="#07366b" stroke-width="0.8"/><line x1="291.80" y1="483.60" x2="291.80" y2="484.42" stroke="#07366b" stroke-width="0.9"/><line x1="290.60" y1="484.42" x2="293.00" y2="484.42" stroke="#07366b" stroke-width="0.9"/><rect x="299.85" y="473.10" width="9.10" height="17.59" fill="#c81f33" stroke="#aa0f27" stroke-width="0.8"/><line x1="304.40" y1="491.09" x2="304.40" y2="491.99" stroke="#aa0f27" stroke-width="0.9"/><line x1="303.20" y1="491.99" x2="305.60" y2="491.99" stroke="#aa0f27" stroke-width="0.9"/></g>
<rect x="226.4" y="426.5" width="88.7" height="113.1" fill="none" stroke="#2c2a2b" stroke-width="1.1"/>
<g clip-path="url(#c33)"><rect x="324.85" y="473.10" width="9.10" height="4.30" fill="#135086" stroke="#07366b" stroke-width="0.8"/><line x1="329.40" y1="477.80" x2="329.40" y2="478.56" stroke="#07366b" stroke-width="0.9"/><line x1="328.20" y1="478.56" x2="330.60" y2="478.56" stroke="#07366b" stroke-width="0.9"/><rect x="337.45" y="473.10" width="9.10" height="8.78" fill="#c81f33" stroke="#aa0f27" stroke-width="0.8"/><line x1="342.00" y1="482.28" x2="342.00" y2="483.09" stroke="#aa0f27" stroke-width="0.9"/><line x1="340.80" y1="483.09" x2="343.20" y2="483.09" stroke="#aa0f27" stroke-width="0.9"/><rect x="352.40" y="473.10" width="9.10" height="18.37" fill="#135086" stroke="#07366b" stroke-width="0.8"/><line x1="356.95" y1="491.87" x2="356.95" y2="492.78" stroke="#07366b" stroke-width="0.9"/><line x1="355.75" y1="492.78" x2="358.15" y2="492.78" stroke="#07366b" stroke-width="0.9"/><rect x="365.00" y="473.10" width="9.10" height="27.58" fill="#c81f33" stroke="#aa0f27" stroke-width="0.8"/><line x1="369.55" y1="501.08" x2="369.55" y2="502.09" stroke="#aa0f27" stroke-width="0.9"/><line x1="368.35" y1="502.09" x2="370.75" y2="502.09" stroke="#aa0f27" stroke-width="0.9"/><rect x="379.95" y="473.10" width="9.10" height="29.51" fill="#135086" stroke="#07366b" stroke-width="0.8"/><line x1="384.50" y1="503.01" x2="384.50" y2="504.04" stroke="#07366b" stroke-width="0.9"/><line x1="383.30" y1="504.04" x2="385.70" y2="504.04" stroke="#07366b" stroke-width="0.9"/><rect x="392.55" y="473.10" width="9.10" height="42.18" fill="#c81f33" stroke="#aa0f27" stroke-width="0.8"/><line x1="397.10" y1="515.68" x2="397.10" y2="516.85" stroke="#aa0f27" stroke-width="0.9"/><line x1="395.90" y1="516.85" x2="398.30" y2="516.85" stroke="#aa0f27" stroke-width="0.9"/></g>
<rect x="319.1" y="426.5" width="88.7" height="113.1" fill="none" stroke="#2c2a2b" stroke-width="1.1"/>
<g clip-path="url(#c34)"><rect x="417.55" y="473.10" width="9.10" height="10.10" fill="#135086" stroke="#07366b" stroke-width="0.8"/><line x1="422.10" y1="483.60" x2="422.10" y2="484.42" stroke="#07366b" stroke-width="0.9"/><line x1="420.90" y1="484.42" x2="423.30" y2="484.42" stroke="#07366b" stroke-width="0.9"/><rect x="430.15" y="473.10" width="9.10" height="12.48" fill="#c81f33" stroke="#aa0f27" stroke-width="0.8"/><line x1="434.70" y1="485.98" x2="434.70" y2="486.83" stroke="#aa0f27" stroke-width="0.9"/><line x1="433.50" y1="486.83" x2="435.90" y2="486.83" stroke="#aa0f27" stroke-width="0.9"/><rect x="445.10" y="473.10" width="9.10" height="22.60" fill="#135086" stroke="#07366b" stroke-width="0.8"/><line x1="449.65" y1="496.10" x2="449.65" y2="497.06" stroke="#07366b" stroke-width="0.9"/><line x1="448.45" y1="497.06" x2="450.85" y2="497.06" stroke="#07366b" stroke-width="0.9"/><rect x="457.70" y="473.10" width="9.10" height="32.39" fill="#c81f33" stroke="#aa0f27" stroke-width="0.8"/><line x1="462.25" y1="505.89" x2="462.25" y2="506.96" stroke="#aa0f27" stroke-width="0.9"/><line x1="461.05" y1="506.96" x2="463.45" y2="506.96" stroke="#aa0f27" stroke-width="0.9"/><rect x="472.65" y="473.10" width="9.10" height="36.30" fill="#135086" stroke="#07366b" stroke-width="0.8"/><line x1="477.20" y1="509.80" x2="477.20" y2="510.91" stroke="#07366b" stroke-width="0.9"/><line x1="476.00" y1="510.91" x2="478.40" y2="510.91" stroke="#07366b" stroke-width="0.9"/><rect x="485.25" y="473.10" width="9.10" height="47.12" fill="#c81f33" stroke="#aa0f27" stroke-width="0.8"/><line x1="489.80" y1="520.62" x2="489.80" y2="521.84" stroke="#aa0f27" stroke-width="0.9"/><line x1="488.60" y1="521.84" x2="491.00" y2="521.84" stroke="#aa0f27" stroke-width="0.9"/></g>
<rect x="411.8" y="426.5" width="88.7" height="113.1" fill="none" stroke="#2c2a2b" stroke-width="1.1"/>
<line x1="38" y1="431.57" x2="41.0" y2="431.57" stroke="#333" stroke-width="1"/>
<text x="0" y="0" font-size="8.0" fill="#3a3a3a" text-anchor="end"  transform="translate(35.40 433.97) scale(0.95 1)">1.0</text>
<line x1="38" y1="452.13" x2="41.0" y2="452.13" stroke="#333" stroke-width="1"/>
<text x="0" y="0" font-size="8.0" fill="#3a3a3a" text-anchor="end"  transform="translate(35.40 454.53) scale(0.95 1)">0.5</text>
<line x1="38" y1="472.70" x2="41.0" y2="472.70" stroke="#333" stroke-width="1"/>
<text x="0" y="0" font-size="8.0" fill="#3a3a3a" text-anchor="end"  transform="translate(35.40 475.10) scale(0.95 1)">0.0</text>
<line x1="38" y1="493.26" x2="41.0" y2="493.26" stroke="#333" stroke-width="1"/>
<text x="0" y="0" font-size="8.0" fill="#3a3a3a" text-anchor="end"  transform="translate(35.40 495.66) scale(0.95 1)">−0.5</text>
<line x1="38" y1="513.83" x2="41.0" y2="513.83" stroke="#333" stroke-width="1"/>
<text x="0" y="0" font-size="8.0" fill="#3a3a3a" text-anchor="end"  transform="translate(35.40 516.23) scale(0.95 1)">−1.0</text>
<line x1="38" y1="534.39" x2="41.0" y2="534.39" stroke="#333" stroke-width="1"/>
<text x="0" y="0" font-size="8.0" fill="#3a3a3a" text-anchor="end"  transform="translate(35.40 536.79) scale(0.95 1)">−1.5</text>
<rect x="501" y="426.0" width="12.7" height="114.1" fill="#bdbcc0"/>
<text x="0" y="0" font-size="9.0" fill="#262626" text-anchor="middle" stroke="#262626" stroke-width="0.15" transform="translate(504.70 483.05) rotate(90) scale(0.95 1)">QALYs</text>
<line x1="57.45" y1="539.60" x2="57.45" y2="542.60" stroke="#333" stroke-width="1"/>
<text x="0" y="0" font-size="8.0" fill="#3a3a3a" text-anchor="middle"  transform="translate(57.45 551.60) scale(0.95 1)">20</text>
<line x1="85.35" y1="539.60" x2="85.35" y2="542.60" stroke="#333" stroke-width="1"/>
<text x="0" y="0" font-size="8.0" fill="#3a3a3a" text-anchor="middle"  transform="translate(85.35 551.60) scale(0.95 1)">35</text>
<line x1="113.25" y1="539.60" x2="113.25" y2="542.60" stroke="#333" stroke-width="1"/>
<text x="0" y="0" font-size="8.0" fill="#3a3a3a" text-anchor="middle"  transform="translate(113.25 551.60) scale(0.95 1)">50</text>
<line x1="150.15" y1="539.60" x2="150.15" y2="542.60" stroke="#333" stroke-width="1"/>
<text x="0" y="0" font-size="8.0" fill="#3a3a3a" text-anchor="middle"  transform="translate(150.15 551.60) scale(0.95 1)">20</text>
<line x1="178.05" y1="539.60" x2="178.05" y2="542.60" stroke="#333" stroke-width="1"/>
<text x="0" y="0" font-size="8.0" fill="#3a3a3a" text-anchor="middle"  transform="translate(178.05 551.60) scale(0.95 1)">35</text>
<line x1="205.95" y1="539.60" x2="205.95" y2="542.60" stroke="#333" stroke-width="1"/>
<text x="0" y="0" font-size="8.0" fill="#3a3a3a" text-anchor="middle"  transform="translate(205.95 551.60) scale(0.95 1)">50</text>
<line x1="242.85" y1="539.60" x2="242.85" y2="542.60" stroke="#333" stroke-width="1"/>
<text x="0" y="0" font-size="8.0" fill="#3a3a3a" text-anchor="middle"  transform="translate(242.85 551.60) scale(0.95 1)">20</text>
<line x1="270.75" y1="539.60" x2="270.75" y2="542.60" stroke="#333" stroke-width="1"/>
<text x="0" y="0" font-size="8.0" fill="#3a3a3a" text-anchor="middle"  transform="translate(270.75 551.60) scale(0.95 1)">35</text>
<line x1="298.65" y1="539.60" x2="298.65" y2="542.60" stroke="#333" stroke-width="1"/>
<text x="0" y="0" font-size="8.0" fill="#3a3a3a" text-anchor="middle"  transform="translate(298.65 551.60) scale(0.95 1)">50</text>
<line x1="335.55" y1="539.60" x2="335.55" y2="542.60" stroke="#333" stroke-width="1"/>
<text x="0" y="0" font-size="8.0" fill="#3a3a3a" text-anchor="middle"  transform="translate(335.55 551.60) scale(0.95 1)">20</text>
<line x1="363.45" y1="539.60" x2="363.45" y2="542.60" stroke="#333" stroke-width="1"/>
<text x="0" y="0" font-size="8.0" fill="#3a3a3a" text-anchor="middle"  transform="translate(363.45 551.60) scale(0.95 1)">35</text>
<line x1="391.35" y1="539.60" x2="391.35" y2="542.60" stroke="#333" stroke-width="1"/>
<text x="0" y="0" font-size="8.0" fill="#3a3a3a" text-anchor="middle"  transform="translate(391.35 551.60) scale(0.95 1)">50</text>
<line x1="428.25" y1="539.60" x2="428.25" y2="542.60" stroke="#333" stroke-width="1"/>
<text x="0" y="0" font-size="8.0" fill="#3a3a3a" text-anchor="middle"  transform="translate(428.25 551.60) scale(0.95 1)">20</text>
<line x1="456.15" y1="539.60" x2="456.15" y2="542.60" stroke="#333" stroke-width="1"/>
<text x="0" y="0" font-size="8.0" fill="#3a3a3a" text-anchor="middle"  transform="translate(456.15 551.60) scale(0.95 1)">35</text>
<line x1="484.05" y1="539.60" x2="484.05" y2="542.60" stroke="#333" stroke-width="1"/>
<text x="0" y="0" font-size="8.0" fill="#3a3a3a" text-anchor="middle"  transform="translate(484.05 551.60) scale(0.95 1)">50</text>
<text x="0" y="0" font-size="9.4" fill="#1e1e1e" stroke="#1e1e1e" stroke-width="0.35" text-anchor="middle" transform="translate(270.5 563.70) scale(0.665 1)">Age at exposure</text>
<text x="0" y="0" font-size="11.8" fill="#111" text-anchor="start" font-weight="bold" transform="translate(7.10 15.10) scale(0.915 1)">C</text>
<text x="0" y="0" font-size="9.8" fill="#222" text-anchor="start"  transform="translate(40.30 15.60) scale(0.911 1)">Never smoker, 3.5% discount to future health</text>
<text x="0" y="0" font-size="11.8" fill="#111" text-anchor="start" font-weight="bold" transform="translate(7.10 303.10) scale(0.915 1)">D</text>
<text x="0" y="0" font-size="9.8" fill="#222" text-anchor="start"  transform="translate(40.30 303.60) scale(0.911 1)">Current smoker, 3.5% discount to future health</text>
<text x="0" y="0" font-size="7.6" fill="#333" text-anchor="start"  transform="translate(216.20 578.80) scale(0.92 1)">Gender</text>
<rect x="242.7" y="572.7" width="6.4" height="6.6" fill="#135086"/>
<text x="0" y="0" font-size="7.6" fill="#333" text-anchor="start"  transform="translate(252.00 578.80) scale(0.88 1)">Female</text>
<rect x="279.5" y="572.7" width="6.4" height="6.6" fill="#c81f33"/>
<text x="0" y="0" font-size="7.6" fill="#333" text-anchor="start"  transform="translate(288.80 578.80) scale(0.92 1)">Male</text>
</svg></body></html>
